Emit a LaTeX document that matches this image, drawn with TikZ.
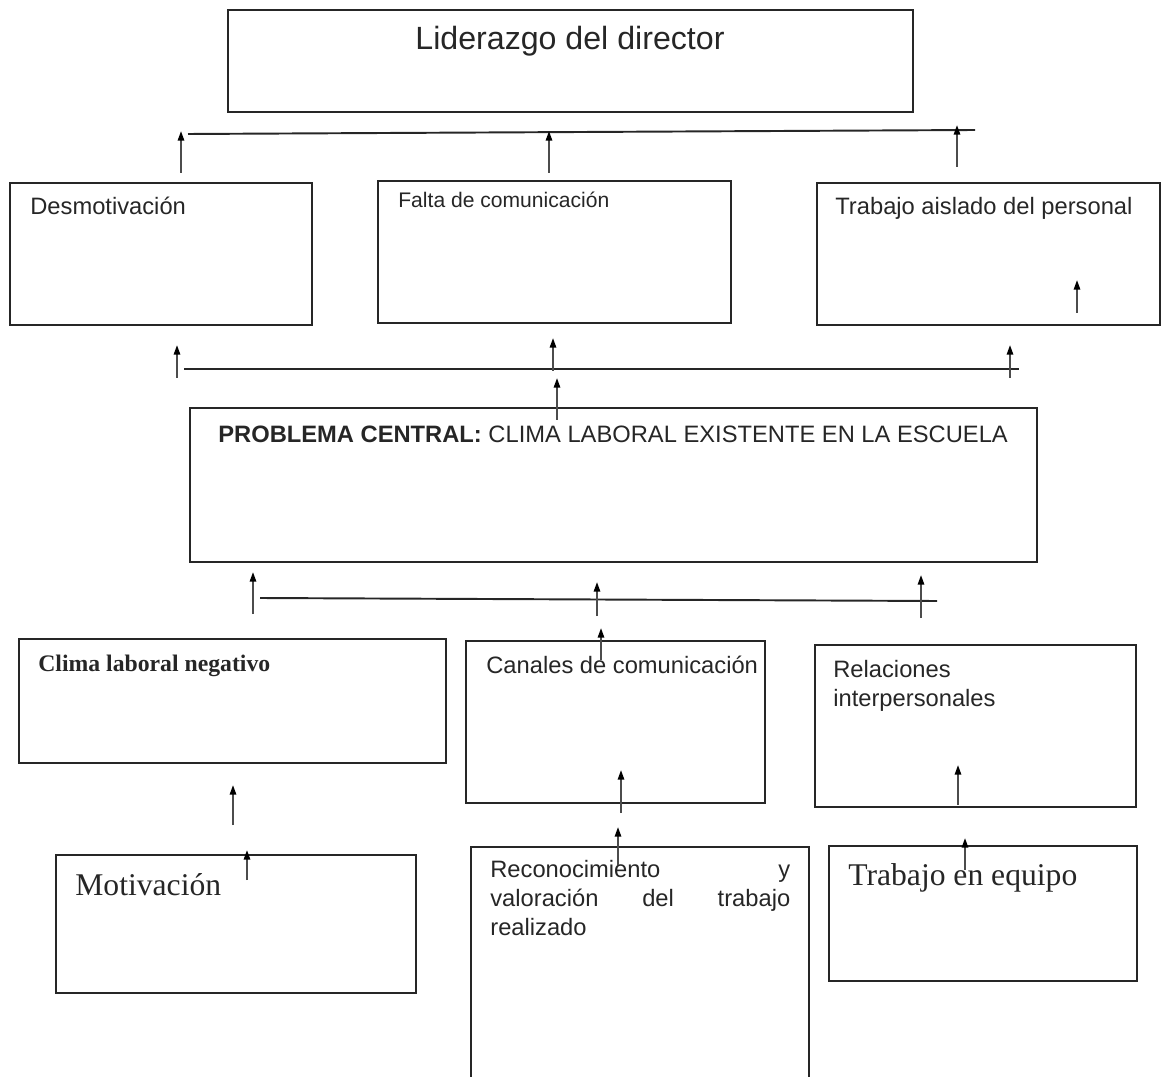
\documentclass[tikz,border=0pt]{standalone}
\usepackage{fontspec}
\setmainfont{Liberation Sans}
\newfontfamily\timesface{Liberation Serif}
\usetikzlibrary{positioning,arrows.meta,fit}

\begin{document}
\begin{tikzpicture}[x=0.02cm, y=-0.02cm, box/.style={draw=black!85,line width=1.1pt,inner sep=0pt}, txt/.style={inner sep=0pt,anchor=base west,align=left,text=black!85,font=\fontsize{13.5}{16.5}\selectfont}, arrow/.style={-{Triangle[length=5.5pt,width=3.6pt,color=black]},line width=1.1pt,draw=black!70}, link/.style={line width=1.1pt,draw=black!85}]
\useasboundingbox (0,0) rectangle (1162,1077);
% boxes
\node[box,fit={(228,10) (913,112)}] (lider) {};
\node[box,fit={(10,183) (312,325)}] (desmot) {};
\node[box,fit={(378,181) (731,323)}] (falta) {};
\node[box,fit={(817,183) (1160,325)}] (aislado) {};
\node[box,fit={(190,408) (1037,562)}] (central) {};
\node[box,fit={(19,639) (446,763)}] (clima) {};
\node[box,fit={(466,641) (765,803)}] (canales) {};
\node[box,fit={(815,645) (1136,807)}] (relac) {};
\node[box,fit={(56,855) (416,993)}] (motiv) {};
\node[box,fit={(471,847) (809,1090)}] (recon) {};
\node[box,fit={(829,846) (1137,981)}] (equipo) {};
% texts
\node[txt,anchor=base,font=\fontsize{18.3}{22}\selectfont] (liderT) at (570,50) {Liderazgo del director};
\node[txt] (desmotT) at (30,215) {Desmotivación};
\node[txt,font=\fontsize{12}{14}\selectfont] (faltaT) at (398,208) {Falta de comunicación};
\node[txt] (aisladoT) at (835,215) {Trabajo aislado del personal};
\node[txt] (centralT) at (218,442) {\textbf{PROBLEMA CENTRAL:} CLIMA LABORAL EXISTENTE EN LA ESCUELA};
\node[txt,font=\fontsize{13.5}{16.5}\timesface\bfseries] (climaT) at (38,671) {Clima laboral negativo};
\node[txt] (canalesT) at (486,673) {Canales de comunicación};
\node[txt,anchor=north west] (relacT) at (833,660) {Relaciones\\interpersonales};
\node[txt,font=\fontsize{18}{22}\timesface] (motivT) at (75,895) {Motivación};
\node[txt,anchor=north west,text width=6cm,align=justify] (reconT) at (490,860) {Reconocimiento\hfill y\\valoración\hfill del\hfill trabajo\\realizado};
\node[txt,font=\fontsize{18}{22}\timesface] (equipoT) at (848,885) {Trabajo en equipo};
% joining lines
\coordinate (l1a) at (188,134); \coordinate (l1b) at (975,130);
\coordinate (l2a) at (184,369); \coordinate (l2b) at (1019,369);
\coordinate (l3a) at (260,598); \coordinate (l3b) at (937,601);
\draw[link] (l1a) -- (l1b);
\draw[link] (l2a) -- (l2b);
\draw[link] (l3a) -- (l3b);
% arrow ends
\coordinate (a1s) at (181,173); \coordinate (a1e) at (181,131);
\coordinate (a2s) at (549,173); \coordinate (a2e) at (549,131);
\coordinate (a3s) at (957,167); \coordinate (a3e) at (957,125);
\coordinate (a4s) at (177,378); \coordinate (a4e) at (177,345);
\coordinate (a5s) at (553,371); \coordinate (a5e) at (553,338);
\coordinate (a6s) at (1010,378); \coordinate (a6e) at (1010,345);
\coordinate (a7s) at (557,420); \coordinate (a7e) at (557,378);
\coordinate (a8s) at (253,614); \coordinate (a8e) at (253,572);
\coordinate (a9s) at (597,616); \coordinate (a9e) at (597,582);
\coordinate (a10s) at (921,618); \coordinate (a10e) at (921,575);
\coordinate (a11s) at (601,660); \coordinate (a11e) at (601,628);
\coordinate (a12s) at (1077,313); \coordinate (a12e) at (1077,280);
\coordinate (a13s) at (621,813); \coordinate (a13e) at (621,770);
\coordinate (a14s) at (958,805); \coordinate (a14e) at (958,765);
\coordinate (a15s) at (233,825); \coordinate (a15e) at (233,785);
\coordinate (a16s) at (247,880); \coordinate (a16e) at (247,850);
\coordinate (a17s) at (618,865); \coordinate (a17e) at (618,827);
\coordinate (a18s) at (965,870); \coordinate (a18e) at (965,838);
\draw[arrow] (a1s) -- (a1e);
\draw[arrow] (a2s) -- (a2e);
\draw[arrow] (a3s) -- (a3e);
\draw[arrow] (a4s) -- (a4e);
\draw[arrow] (a5s) -- (a5e);
\draw[arrow] (a6s) -- (a6e);
\draw[arrow] (a7s) -- (a7e);
\draw[arrow] (a8s) -- (a8e);
\draw[arrow] (a9s) -- (a9e);
\draw[arrow] (a10s) -- (a10e);
\draw[arrow] (a11s) -- (a11e);
\draw[arrow] (a12s) -- (a12e);
\draw[arrow] (a13s) -- (a13e);
\draw[arrow] (a14s) -- (a14e);
\draw[arrow] (a15s) -- (a15e);
\draw[arrow] (a16s) -- (a16e);
\draw[arrow] (a17s) -- (a17e);
\draw[arrow] (a18s) -- (a18e);
\end{tikzpicture}
\end{document}
